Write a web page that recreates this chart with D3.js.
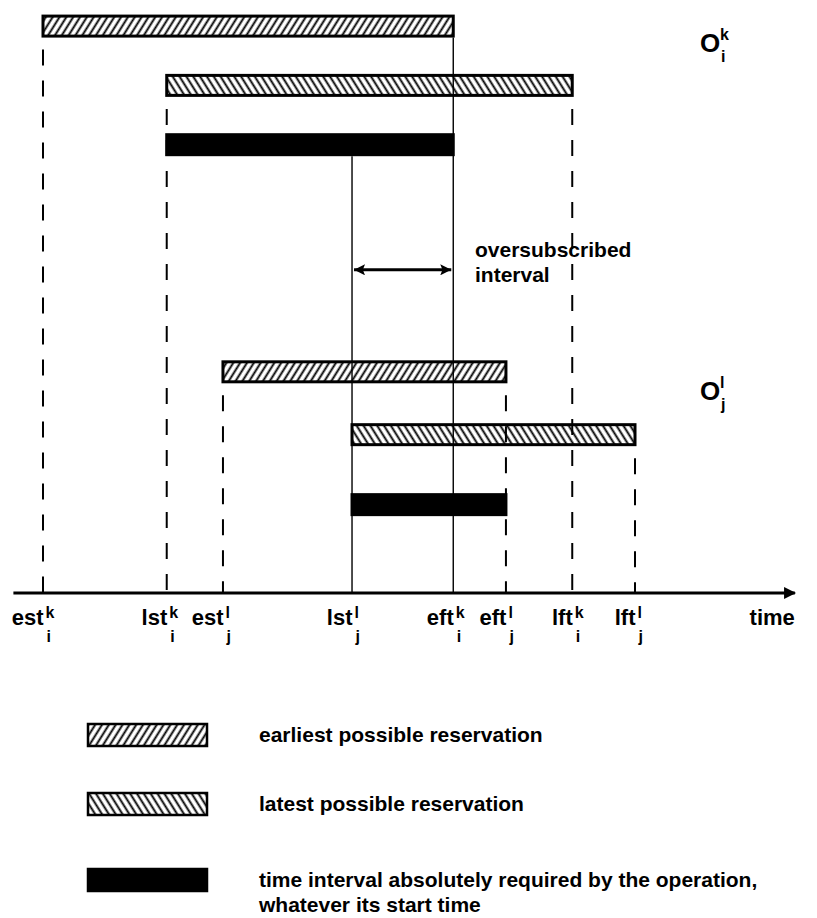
<!DOCTYPE html>
<html>
<head>
<meta charset="utf-8">
<script src="https://cdn.jsdelivr.net/npm/d3@7"></script>
<style>
body { margin: 0; background: #fff; }
svg text { font-family: "Liberation Sans", Arial, sans-serif; font-weight: bold; fill: #000; }
</style>
</head>
<body>
<div id="chart"></div>
<script>
var ctx = {
    w: 817,
    h: 918
};

// time points on the axis
var tickNames = ["est", "lst", "est", "lst", "eft", "eft", "lft", "lft"];
var tickSups = ["k", "k", "l", "l", "k", "l", "k", "l"];
var tickSubs = ["i", "i", "j", "j", "i", "j", "i", "j"];
var tickValues = [0, 20.9, 30.4, 52.2, 69.3, 78.2, 89.4, 100];

// reservations of operation O(i,k) then O(j,l)
var barTypes = ["earliest", "latest", "required", "earliest", "latest", "required"];
var barStarts = [0, 20.9, 20.9, 30.4, 52.2, 52.2];
var barEnds = [69.3, 89.4, 69.3, 78.2, 100, 78.2];
var barRows = [4.4, 14.4, 24.4, 62.7, 73.3, 85.1];

// which bar each guide line hangs from, and whether it is solid
var guideBars = [0, 1, 3, 2, 0, 3, 1, 4];
var guideSolid = [false, false, false, true, true, false, false, false];

var opSups = ["k", "l"];
var opSubs = ["i", "j"];
var opRows = [8.8, 67.5];

var legendTypes = ["earliest", "latest", "required"];
var legendLabels = [
    ["earliest possible reservation"],
    ["latest possible reservation"],
    ["time interval absolutely required by the operation,", "whatever its start time"]
];

var createDiagram = function (svg) {
    var x = d3.scaleLinear().domain([0, 100]).range([43, 635]);
    var y = d3.scaleLinear().domain([0, 100]).range([0, 593]);
    var barH = 20;
    var axisY = y(100);

    var defs = svg.append("defs");
    var makeHatch = function (id, angle) {
        var p = defs.append("pattern")
            .attr("id", id)
            .attr("patternUnits", "userSpaceOnUse")
            .attr("width", 5.8)
            .attr("height", 10)
            .attr("patternTransform", "rotate(" + angle + ")");
        p.append("rect").attr("width", 5.8).attr("height", 10).attr("fill", "#fff");
        p.append("line")
            .attr("x1", 1.5).attr("y1", 0)
            .attr("x2", 1.5).attr("y2", 10)
            .attr("stroke", "#000")
            .attr("stroke-width", 1.9);
    };
    makeHatch("hatch-earliest", 32);
    makeHatch("hatch-latest", -32);

    var fillFor = function (t) {
        if (t == "earliest") return "url(#hatch-earliest)";
        if (t == "latest") return "url(#hatch-latest)";
        return "#000";
    };

    var bars = [];
    for (var i = 0; i < barTypes.length; i++) {
        bars.push({ type: barTypes[i], start: barStarts[i], end: barEnds[i], row: barRows[i] });
    }

    svg.selectAll("rect.bar")
        .data(bars)
        .enter().append("rect")
        .attr("class", "bar")
        .attr("x", function (d) { return x(d.start); })
        .attr("y", function (d) { return y(d.row) - barH / 2; })
        .attr("width", function (d) { return x(d.end) - x(d.start); })
        .attr("height", barH)
        .attr("fill", function (d) { return fillFor(d.type); })
        .attr("stroke", "#000")
        .attr("stroke-width", 3);

    // guide lines down to the time axis
    var guides = [];
    for (var i = 0; i < tickValues.length; i++) {
        guides.push({ t: tickValues[i], bar: bars[guideBars[i]], solid: guideSolid[i] });
    }
    svg.selectAll("line.guide")
        .data(guides)
        .enter().append("line")
        .attr("class", "guide")
        .attr("x1", function (d) { return x(d.t); })
        .attr("x2", function (d) { return x(d.t); })
        .attr("y1", function (d) { return y(d.bar.row) + barH / 2 + 1.5; })
        .attr("y2", axisY)
        .attr("stroke", "#000")
        .attr("stroke-width", function (d) { return d.solid ? 1.4 : 2; })
        .attr("stroke-dasharray", function (d) { return d.solid ? null : "16,15"; })
        .attr("stroke-dashoffset", 19);

    // time axis with arrow
    defs.append("marker")
        .attr("id", "arrow")
        .attr("viewBox", "0 0 10 10")
        .attr("refX", 9).attr("refY", 5)
        .attr("markerWidth", 22).attr("markerHeight", 12)
        .attr("markerUnits", "userSpaceOnUse")
        .attr("orient", "auto-start-reverse")
        .append("path")
        .attr("d", "M0,0 L10,5 L0,10 z")
        .attr("fill", "#000");

    svg.append("line")
        .attr("x1", x(-5)).attr("x2", x(127))
        .attr("y1", axisY).attr("y2", axisY)
        .attr("stroke", "#000")
        .attr("stroke-width", 3)
        .attr("marker-end", "url(#arrow)");

    var axis = d3.axisBottom(x)
        .tickValues(tickValues)
        .tickSize(0)
        .tickFormat("");
    var gAxis = svg.append("g")
        .attr("transform", "translate(0," + axisY + ")")
        .call(axis);
    gAxis.select(".domain").remove();

    var ticks = gAxis.selectAll(".tick");
    ticks.append("text")
        .attr("x", 0).attr("y", 32)
        .attr("text-anchor", "end")
        .style("font-size", "22px")
        .text(function (d, i) { return tickNames[i]; });
    ticks.append("text")
        .attr("x", 2).attr("y", 25)
        .attr("text-anchor", "start")
        .style("font-size", "16px")
        .text(function (d, i) { return tickSups[i]; });
    ticks.append("text")
        .attr("x", 3).attr("y", 49)
        .attr("text-anchor", "start")
        .style("font-size", "16px")
        .text(function (d, i) { return tickSubs[i]; });

    svg.append("text")
        .attr("x", x(127)).attr("y", axisY + 32)
        .attr("text-anchor", "end")
        .style("font-size", "22px")
        .text("time");

    // operation names
    var ops = svg.selectAll("g.op")
        .data(opRows)
        .enter().append("g")
        .attr("class", "op")
        .attr("transform", function (d) { return "translate(700," + y(d) + ")"; });
    ops.append("text")
        .style("font-size", "26px")
        .text("O");
    ops.append("text")
        .attr("x", 20).attr("y", -12)
        .style("font-size", "16px")
        .text(function (d, i) { return opSups[i]; });
    ops.append("text")
        .attr("x", 21).attr("y", 10)
        .style("font-size", "16px")
        .text(function (d, i) { return opSubs[i]; });

    // oversubscribed interval
    var arrowY = y(45.5);
    var defsArrow = defs.append("marker")
        .attr("id", "head")
        .attr("viewBox", "0 0 10 10")
        .attr("refX", 10).attr("refY", 5)
        .attr("markerWidth", 24).attr("markerHeight", 11)
        .attr("markerUnits", "userSpaceOnUse")
        .attr("orient", "auto-start-reverse");
    defsArrow.append("path")
        .attr("d", "M0,0 L10,5 L0,10 L2,5 z")
        .attr("fill", "#000");
    svg.append("line")
        .attr("x1", x(tickValues[3]) + 2).attr("x2", x(tickValues[4]) - 2)
        .attr("y1", arrowY).attr("y2", arrowY)
        .attr("stroke", "#000")
        .attr("stroke-width", 3)
        .attr("marker-start", "url(#head)")
        .attr("marker-end", "url(#head)");
    svg.append("text")
        .attr("x", 475).attr("y", arrowY - 13)
        .style("font-size", "21px")
        .text("oversubscribed");
    svg.append("text")
        .attr("x", 475).attr("y", arrowY + 12)
        .style("font-size", "21px")
        .text("interval");

    // legend
    var legendY = [735, 804, 880];
    var lg = svg.selectAll("g.legend")
        .data(legendTypes)
        .enter().append("g")
        .attr("class", "legend")
        .attr("transform", function (d, i) { return "translate(87," + legendY[i] + ")"; });
    lg.append("rect")
        .attr("x", 1).attr("y", -11)
        .attr("width", 119).attr("height", 22)
        .attr("fill", function (d) { return fillFor(d); })
        .attr("stroke", "#000")
        .attr("stroke-width", 2.5);
    lg.each(function (d, i) {
        var g = d3.select(this);
        legendLabels[i].forEach(function (line, j) {
            g.append("text")
                .attr("x", 172).attr("y", 7 + j * 25)
                .style("font-size", "21px")
                .text(line);
        });
    });
};

var createViz = function () {
    var svg = d3.select("#chart").append("svg")
        .attr("width", ctx.w)
        .attr("height", ctx.h);
    createDiagram(svg);
};

createViz();
</script>
</body>
</html>
